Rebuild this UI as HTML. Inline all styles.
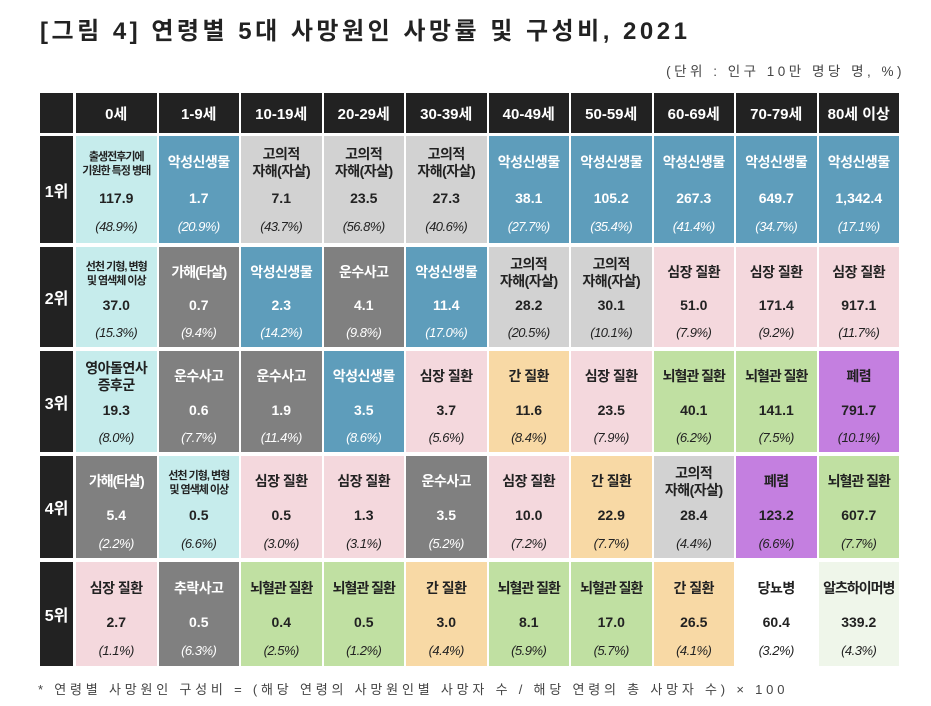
<!DOCTYPE html>
<html><head><meta charset="utf-8">
<style>
body{margin:0;width:931px;height:706px;background:#fff;position:relative;overflow:hidden;font-family:"Liberation Sans","Noto Sans CJK KR",sans-serif;}
#title{position:absolute;left:40px;top:11px;font-size:24px;font-weight:bold;color:#222;letter-spacing:3.5px;white-space:nowrap}
#unit{position:absolute;right:26px;top:60px;font-size:13.5px;color:#444;letter-spacing:3.5px;white-space:nowrap}
#foot{position:absolute;left:38px;top:679px;font-size:13px;color:#444;letter-spacing:3.8px;white-space:nowrap}
.c{position:absolute;box-sizing:border-box;text-align:center;font-weight:bold;color:#222}
.hd{background:#222;color:#fff;font-size:15px;display:flex;align-items:center;justify-content:center}
.nm{position:absolute;left:0;right:0;font-size:14px;line-height:17px;letter-spacing:-0.5px}
.vl{position:absolute;left:0;right:0;font-size:14px}
.pc{position:absolute;left:0;right:0;font-size:13px;font-style:italic;font-weight:normal;letter-spacing:-0.5px}
.sm{font-size:11px;line-height:14px;letter-spacing:-1px}
</style></head><body>
<div id="title">[그림 4] 연령별 5대 사망원인 사망률 및 구성비, 2021</div>
<div id="unit">(단위 : 인구 10만 명당 명, %)</div>
<div id="tbl"></div>
<div id="foot">* 연령별 사망원인 구성비 = (해당 연령의 사망원인별 사망자 수 / 해당 연령의 총 사망자 수) × 100</div>
<script>
const ages=["0세","1-9세","10-19세","20-29세","30-39세","40-49세","50-59세","60-69세","70-79세","80세 이상"];
const ranks=["1위","2위","3위","4위","5위"];
const C={cy:"#c6ecec",bl:"#5e9dbb",lg:"#d2d2d2",dg:"#808080",pk:"#f4d8dd",or:"#f8d9a5",gr:"#c0e0a2",pu:"#c47fe0",wh:"#ffffff",vg:"#eff6ea"};
const S="고의적\n자해(자살)",M="악성신생물",H="심장 질환",B="뇌혈관 질환",L="간 질환",T="운수사고",K="가해(타살)",CG="선천 기형, 변형\n및 염색체 이상";
const causes=[
["출생전후기에\n기원한 특정 병태",M,S,S,S,M,M,M,M,M],
[CG,K,M,T,M,S,S,H,H,H],
["영아돌연사\n증후군",T,T,M,H,L,H,B,B,"폐렴"],
[K,CG,H,H,T,H,L,S,"폐렴",B],
[H,"추락사고",B,B,L,B,B,L,"당뇨병","알츠하이머병"]];
const colors=[
["cy","bl","lg","lg","lg","bl","bl","bl","bl","bl"],
["cy","dg","bl","dg","bl","lg","lg","pk","pk","pk"],
["cy","dg","dg","bl","pk","or","pk","gr","gr","pu"],
["dg","cy","pk","pk","dg","pk","or","lg","pu","gr"],
["pk","dg","gr","gr","or","gr","gr","or","wh","vg"]];
const rates=[
["117.9","1.7","7.1","23.5","27.3","38.1","105.2","267.3","649.7","1,342.4"],
["37.0","0.7","2.3","4.1","11.4","28.2","30.1","51.0","171.4","917.1"],
["19.3","0.6","1.9","3.5","3.7","11.6","23.5","40.1","141.1","791.7"],
["5.4","0.5","0.5","1.3","3.5","10.0","22.9","28.4","123.2","607.7"],
["2.7","0.5","0.4","0.5","3.0","8.1","17.0","26.5","60.4","339.2"]];
const shares=[
["48.9","20.9","43.7","56.8","40.6","27.7","35.4","41.4","34.7","17.1"],
["15.3","9.4","14.2","9.8","17.0","20.5","10.1","7.9","9.2","11.7"],
["8.0","7.7","11.4","8.6","5.6","8.4","7.9","6.2","7.5","10.1"],
["2.2","6.6","3.0","3.1","5.2","7.2","7.7","4.4","6.6","7.7"],
["1.1","6.3","2.5","1.2","4.4","5.9","5.7","4.1","3.2","4.3"]];
const tbl=document.getElementById('tbl');
const colX=i=>76+i*82.5, colW=80.5;
const rowY=[136,247,351,456,562], rowH=[107,100,101,102,104];
function mk(cls,x,y,w,h){const d=document.createElement('div');d.className=cls;d.style.left=x+'px';d.style.top=y+'px';d.style.width=w+'px';d.style.height=h+'px';tbl.appendChild(d);return d;}
const corner=mk('c hd',40,93,33,40);


ages.forEach((a,i)=>{const d=mk('c hd',colX(i),93,colW,40);d.textContent=a;

});
ranks.forEach((r,j)=>{const d=mk('c hd',40,rowY[j],33,rowH[j]);d.textContent=r;d.style.fontSize='16px';


ages.forEach((a,i)=>{const k=colors[j][i];const c=mk('c',colX(i),rowY[j],colW,rowH[j]);c.style.background=C[k];
if(k==='bl'||k==='dg')c.style.color='#fff';


const h=rowH[j];const name=causes[j][i];const two=name.includes('\n');
const n=document.createElement('div');n.className='nm'+((name===CG||name.startsWith('출생'))?' sm':'');
n.innerHTML=name.replace('\n','<br>');n.style.top=(two?(name===CG||name.startsWith('출생')?h*0.13:h*0.09):h*0.17)+'px';
if(name.length>=6&&!two)n.style.letterSpacing='-1px';


c.appendChild(n);
const v=document.createElement('div');v.className='vl';v.textContent=rates[j][i];v.style.top=(h*0.5)+'px';


c.appendChild(v);
const p=document.createElement('div');p.className='pc';p.textContent='('+shares[j][i]+'%)';p.style.top=(h*0.78)+'px';


c.appendChild(p);
});});
</script>
</body></html>
